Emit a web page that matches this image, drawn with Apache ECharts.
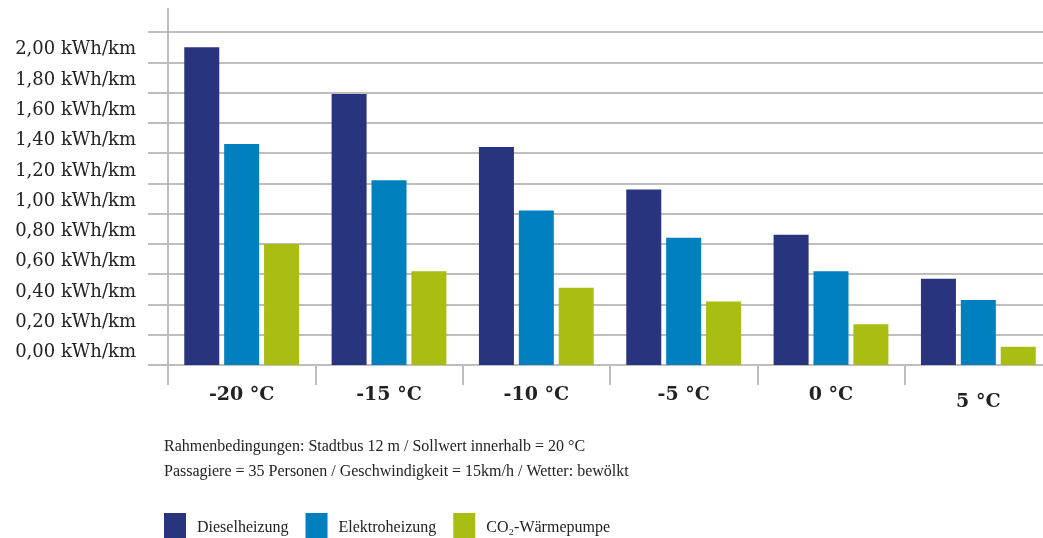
<!DOCTYPE html>
<html>
<head>
<meta charset="utf-8">
<script src="https://cdn.jsdelivr.net/npm/echarts@6/dist/echarts.min.js"></script>
<style>
  html, body { margin: 0; padding: 0; background: #ffffff; }
  #chart { width: 1043px; height: 538px; }
</style>
</head>
<body>
<div id="chart"></div>
<script>
// Temperatures outside the bus
const categories = ['-20 °C', '-15 °C', '-10 °C', '-5 °C', '0 °C', '5 °C'];

// Energy use of the heating system, kWh per km
const dieselheizung = [2.10, 1.79, 1.44, 1.16, 0.86, 0.57];
const elektroheizung = [1.46, 1.22, 1.02, 0.84, 0.62, 0.43];
const waermepumpe = [0.80, 0.62, 0.51, 0.42, 0.27, 0.12];

const seriesNames = ['Dieselheizung', 'Elektroheizung', 'CO\u2082-Wärmepumpe'];
const colors = ['#29347F', '#0080BF', '#AABD13'];

const noteLines = [
  'Rahmenbedingungen: Stadtbus 12 m / Sollwert innerhalb = 20 °C',
  'Passagiere = 35 Personen / Geschwindigkeit = 15km/h / Wetter: bewölkt'
];

const serif = '"Liberation Serif", "DejaVu Serif", serif';
const gridColor = '#BEBEBE';

const chart = echarts.init(document.getElementById('chart'), null, { renderer: 'canvas' });

const gridLeft = 168, gridTop = 32;

chart.setOption({
  animation: false,
  backgroundColor: '#ffffff',
  color: colors,
  title: {
    text: noteLines.join('\n'),
    left: 164,
    top: 434,
    padding: 0,
    textStyle: {
      fontFamily: serif,
      fontWeight: 'normal',
      fontSize: 16,
      lineHeight: 25,
      color: '#222222'
    }
  },
  legend: {
    data: seriesNames,
    left: 164,
    top: 513,
    padding: 0,
    itemWidth: 22,
    itemHeight: 30,
    itemGap: 17,
    icon: 'rect',
    textStyle: {
      fontFamily: serif,
      fontSize: 16,
      color: '#222222',
      padding: [0, 0, 0, 6]
    }
  },
  grid: {
    left: gridLeft,
    right: -9,
    top: gridTop,
    bottom: 173,
    outerBoundsMode: 'none',
    containLabel: false
  },
  xAxis: {
    type: 'category',
    data: categories.map((c, i) => i === categories.length - 1
      ? { value: c, textStyle: { padding: [7, 0, 0, 0] } }
      : c),
    axisLine: { show: true, lineStyle: { color: gridColor, width: 2 } },
    axisTick: { show: true, length: 20, inside: false, lineStyle: { color: gridColor, width: 2 } },
    axisLabel: {
      margin: 21,
      fontFamily: '"DejaVu Serif", serif',
      fontWeight: 'bold',
      fontSize: 19,
      color: '#222222'
    },
    splitLine: { show: false }
  },
  yAxis: {
    type: 'value',
    min: 0,
    max: 2.2,
    interval: 0.2,
    axisLine: { show: true, lineStyle: { color: gridColor, width: 2 } },
    axisTick: { show: true, length: 20, inside: false, lineStyle: { color: gridColor, width: 2 } },
    splitLine: { show: true, lineStyle: { color: gridColor, width: 2 } },
    axisLabel: {
      margin: 32,
      fontFamily: '"DejaVu Serif", serif',
      fontSize: 18,
      color: '#222222',
      verticalAlign: 'bottom',
      lineHeight: 25,
      formatter: v => v > 2.1 ? '' : v.toFixed(2).replace('.', ',') + ' kWh/km'
    }
  },
  graphic: [{
    // the value axis line continues a little above the top gridline
    type: 'line',
    shape: { x1: gridLeft, y1: 8, x2: gridLeft, y2: gridTop },
    style: { stroke: gridColor, lineWidth: 2 },
    silent: true
  }],
  series: [
    { name: seriesNames[0], type: 'bar', data: dieselheizung, barWidth: 35, barGap: '14%' },
    { name: seriesNames[1], type: 'bar', data: elektroheizung, barWidth: 35, barGap: '14%' },
    { name: seriesNames[2], type: 'bar', data: waermepumpe, barWidth: 35, barGap: '14%' }
  ]
});
</script>
</body>
</html>
